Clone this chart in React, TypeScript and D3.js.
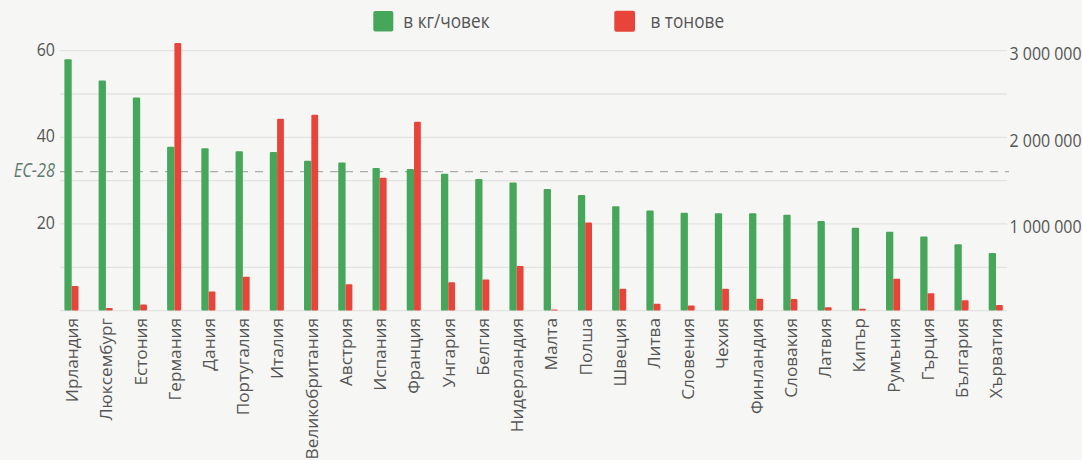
import React from "react";
import * as d3 from "d3";

const countries = [
  "Ирландия", "Люксембург", "Естония", "Германия", "Дания", "Португалия", "Италия",
  "Великобритания", "Австрия", "Испания", "Франция", "Унгария", "Белгия", "Нидерландия",
  "Малта", "Полша", "Швеция", "Литва", "Словения", "Чехия", "Финландия", "Словакия",
  "Латвия", "Кипър", "Румъния", "Гърция", "България", "Хърватия",
];
const kgPerPerson = [
  58.0, 53.1, 49.2, 37.8, 37.5, 36.8, 36.6, 34.6, 34.2, 32.9, 32.7, 31.6, 30.4, 29.6,
  28.1, 26.7, 24.1, 23.1, 22.6, 22.5, 22.5, 22.1, 20.7, 19.1, 18.2, 17.1, 15.3, 13.3,
];
const tonnes = [
  285000, 30000, 70000, 3090000, 220000, 390000, 2215000, 2260000, 305000, 1534000,
  2180000, 326000, 360000, 515000, 12000, 1018000, 252000, 80000, 60000, 252000,
  137000, 134000, 40000, 20000, 368000, 200000, 119000, 66000,
];
const eu28 = 32.1;
const leftTicks = [20, 40, 60];
const rightTicks = [1000000, 2000000, 3000000];
const gridValues = [0, 10, 20, 30, 40, 50, 60];
const legendLabels = ["в кг/човек", "в тонове"];

const GREEN = "#46a75a";
const RED = "#e8443a";
const FONT = "'Open Sans', 'DejaVu Sans', sans-serif";
const TXT = "#555555";

export default function App() {
  const W = 1082, H = 460;
  const y = d3.scaleLinear().domain([0, 60]).range([310.6, 50.7]);
  const yR = d3.scaleLinear().domain([0, 3000000]).range([310.6, 50.7]);
  const x = d3.scalePoint<string>().domain(countries).range([71.7, 996]);
  const fmt = (v: number) => d3.format(",")(v).replace(/,/g, "\u00a0");
  const SX = 0.84;

  return (
    <svg width={W} height={H} style={{ position: "absolute", left: 0, top: 0, background: "#f6f6f4" }}>
      <rect x={0} y={0} width={W} height={H} fill="#f6f6f4" />
      {gridValues.map((v) => (
        <line key={v} x1={60} x2={1007} y1={y(v)} y2={y(v)} stroke="#e3e3e1" strokeWidth={1.3} />
      ))}
      <line x1={60} x2={1009} y1={y(eu28)} y2={y(eu28)} stroke="#a9aeab" strokeWidth={1.3} strokeDasharray="8,7" />
      {leftTicks.map((v) => (
        <g key={v} transform={`translate(55,${y(v) + 4.8}) scale(${SX},1)`}>
          <text x={0} y={0} textAnchor="end" fontFamily={FONT} fontSize={19} fill={TXT}>{v}</text>
        </g>
      ))}
      {rightTicks.map((v) => (
        <g key={v} transform={`translate(1009.5,${yR(v) + 9.3}) scale(${SX},1)`}>
          <text x={0} y={0} textAnchor="start" fontFamily={FONT} fontSize={19} fill={TXT}>{fmt(v)}</text>
        </g>
      ))}
      <g transform={`translate(55,176.7) scale(${SX},1)`}>
        <text x={0} y={0} textAnchor="end" fontFamily={FONT} fontStyle="italic" fontSize={19.5} fill="#5f7a71">ЕС-28</text>
      </g>
      {countries.map((c, i) => {
        const cx = x(c)!;
        return (
          <g key={c}>
            <rect x={cx - 7.3} y={y(kgPerPerson[i])} width={7.3} height={y(0) - y(kgPerPerson[i])} fill={GREEN} rx={1} />
            <rect x={cx} y={yR(tonnes[i])} width={6.8} height={yR(0) - yR(tonnes[i])} fill={RED} rx={1} />
            <text
              transform={`translate(${cx + 0.5},318) rotate(-90)`}
              dy="0.34em"
              textAnchor="end"
              fontFamily={FONT}
              fontSize={17.2}
              fill={TXT}
            >
              {c}
            </text>
          </g>
        );
      })}
      <rect x={373.3} y={11} width={20} height={20.5} rx={2} fill={GREEN} />
      <g transform={`translate(403.3,28.2) scale(${SX},1)`}>
        <text x={0} y={0} fontFamily={FONT} fontSize={20.5} fill={TXT}>{legendLabels[0]}</text>
      </g>
      <rect x={614.3} y={10.8} width={20.7} height={21} rx={2} fill={RED} />
      <g transform={`translate(650.5,28.2) scale(${SX},1)`}>
        <text x={0} y={0} fontFamily={FONT} fontSize={20.5} fill={TXT}>{legendLabels[1]}</text>
      </g>
    </svg>
  );
}
